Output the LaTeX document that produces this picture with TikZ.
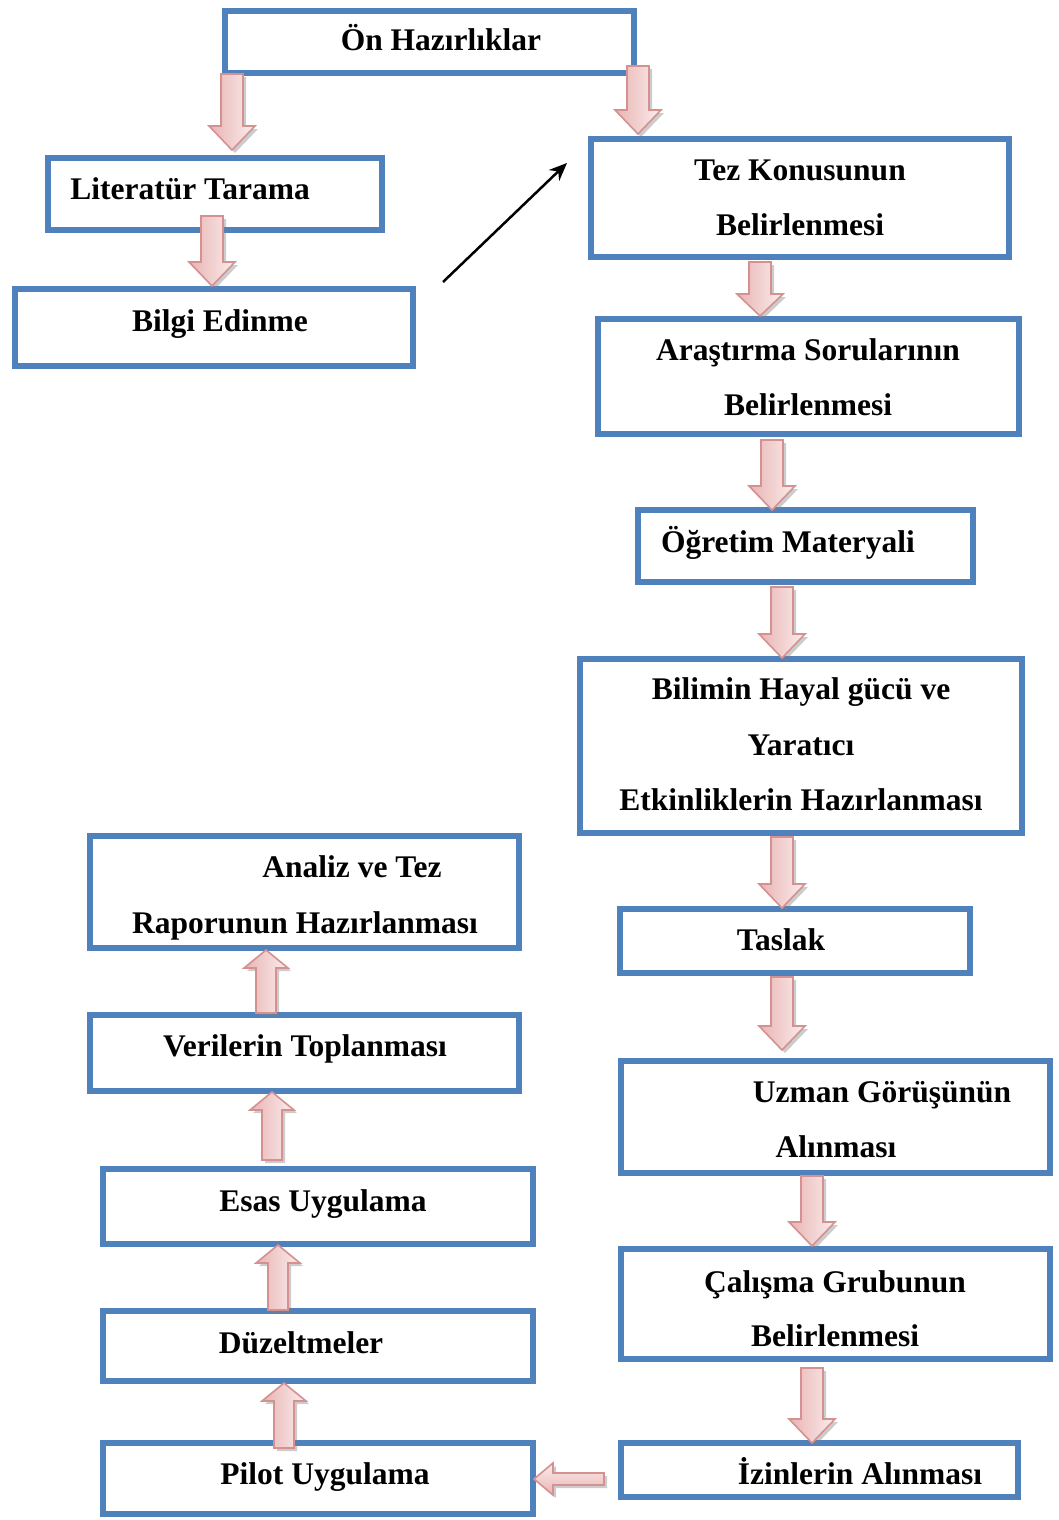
\documentclass[tikz,border=0pt]{standalone}
\usepackage{fontspec}
\setmainfont{Liberation Serif}
\usetikzlibrary{calc,shadows,arrows.meta}
\definecolor{boxblue}{HTML}{4F81BD}
\definecolor{arrline}{HTML}{D59090}
\definecolor{arrdark}{HTML}{E8B4B3}
\definecolor{arrlight}{HTML}{FBEDED}
\tikzset{
  box/.style={draw=boxblue, line width=6pt, inner sep=0pt, fill=white},
  lbl/.style={font=\fontsize{31.5}{40}\selectfont\bfseries, anchor=base, inner sep=0pt},
  barrowstyle/.style={draw=arrline, line width=1.6pt, line join=miter,
    drop shadow={shadow xshift=3pt, shadow yshift=-3pt, fill=black!50, opacity=0.4}},
  vshade/.style={left color=arrdark, right color=arrlight},
  hshade/.style={top color=arrlight, bottom color=arrdark},
}
% [style]{from}{to}{shaft half width}{head half width}{head length}
\newcommand{\blockarrow}[6][vshade]{%
  \coordinate (ba-h) at ($(#3)!#6!(#2)$);
  \path[barrowstyle,#1]
    ($(#2)!#4!90:(#3)$) -- ($(ba-h)!#4!90:(#3)$) -- ($(ba-h)!#5!90:(#3)$) --
    (#3) --
    ($(ba-h)!#5!-90:(#3)$) -- ($(ba-h)!#4!-90:(#3)$) -- ($(#2)!#4!-90:(#3)$) -- cycle;
}
\begin{document}
\begin{tikzpicture}[x=1pt,y=-1pt]
\useasboundingbox (0,0) rectangle (1058,1520);

% boxes
\node[box, minimum width=409, minimum height=62]  (on)  at (429.5,42) {};
\node[box, minimum width=334, minimum height=72]  (lit) at (215,194) {};
\node[box, minimum width=398, minimum height=77]  (bil) at (214,327.5) {};
\node[box, minimum width=418, minimum height=118] (tez) at (800,198) {};
\node[box, minimum width=421, minimum height=115] (ara) at (808.5,376.5) {};
\node[box, minimum width=335, minimum height=72]  (ogr) at (805.5,546) {};
\node[box, minimum width=442, minimum height=174] (bh)  at (801,746) {};
\node[box, minimum width=350, minimum height=64]  (tas) at (795,941) {};
\node[box, minimum width=429, minimum height=112] (uz)  at (835.5,1117) {};
\node[box, minimum width=429, minimum height=110] (cal) at (835.5,1304) {};
\node[box, minimum width=397, minimum height=54]  (izn) at (819.5,1470) {};
\node[box, minimum width=430, minimum height=71]  (pil) at (318,1478.5) {};
\node[box, minimum width=430, minimum height=70]  (duz) at (318,1346) {};
\node[box, minimum width=430, minimum height=75]  (esa) at (318,1206.5) {};
\node[box, minimum width=429, minimum height=76]  (ver) at (304.5,1053) {};
\node[box, minimum width=429, minimum height=112] (ana) at (304.5,892) {};

% texts
\node[lbl] (t-on)   at (441,51)   {Ön Hazırlıklar};
\node[lbl] (t-lit)  at (190,199)  {Literatür Tarama};
\node[lbl] (t-bil)  at (220,331)  {Bilgi Edinme};
\node[lbl] (t-tez1) at (800,180)  {Tez Konusunun};
\node[lbl] (t-tez2) at (800,235)  {Belirlenmesi};
\node[lbl] (t-ara1) at (808,360)  {Araştırma Sorularının};
\node[lbl] (t-ara2) at (808,415)  {Belirlenmesi};
\node[lbl] (t-ogr)  at (788,552)  {Öğretim Materyali};
\node[lbl] (t-bh1)  at (801,699)  {Bilimin Hayal gücü ve};
\node[lbl] (t-bh2)  at (801,755)  {Yaratıcı};
\node[lbl] (t-bh3)  at (801,810)  {Etkinliklerin Hazırlanması};
\node[lbl] (t-tas)  at (781,950)  {Taslak};
\node[lbl] (t-uz1)  at (882,1102) {Uzman Görüşünün};
\node[lbl] (t-uz2)  at (836,1157) {Alınması};
\node[lbl] (t-cal1) at (835,1292) {Çalışma Grubunun};
\node[lbl] (t-cal2) at (835,1346) {Belirlenmesi};
\node[lbl] (t-izn)  at (860,1484) {İzinlerin Alınması};
\node[lbl] (t-ana1) at (352,877)  {Analiz ve Tez};
\node[lbl] (t-ana2) at (305,933)  {Raporunun Hazırlanması};
\node[lbl] (t-ver)  at (305,1056) {Verilerin Toplanması};
\node[lbl] (t-esa)  at (323,1211) {Esas Uygulama};
\node[lbl] (t-duz)  at (301,1353) {Düzeltmeler};
\node[lbl] (t-pil)  at (325,1484) {Pilot Uygulama};

% block arrow end points
\coordinate (a1s) at (232,74);    \coordinate (a1e) at (232,150);
\coordinate (a2s) at (638,66);    \coordinate (a2e) at (638,134);
\coordinate (a3s) at (212,216);   \coordinate (a3e) at (212,286);
\coordinate (a4s) at (760,262);   \coordinate (a4e) at (760,316);
\coordinate (a5s) at (772,440);   \coordinate (a5e) at (772,510);
\coordinate (a6s) at (782,587);   \coordinate (a6e) at (782,658);
\coordinate (a7s) at (782,837);   \coordinate (a7e) at (782,908);
\coordinate (a8s) at (782,977);   \coordinate (a8e) at (782,1050);
\coordinate (a9s) at (812,1176);  \coordinate (a9e) at (812,1246);
\coordinate (a10s) at (812,1368); \coordinate (a10e) at (812,1443);
\coordinate (u1s) at (284,1448);  \coordinate (u1e) at (284,1383);
\coordinate (u2s) at (278,1310);  \coordinate (u2e) at (278,1245);
\coordinate (u3s) at (272,1160);  \coordinate (u3e) at (272,1092);
\coordinate (u4s) at (266,1013);  \coordinate (u4e) at (266,950);
\coordinate (l1s) at (604,1479);  \coordinate (l1e) at (534,1479);

\blockarrow{a1s}{a1e}{11pt}{23pt}{24pt}
\blockarrow{a2s}{a2e}{11pt}{23pt}{24pt}
\blockarrow{a3s}{a3e}{11pt}{23pt}{24pt}
\blockarrow{a4s}{a4e}{11pt}{23pt}{22pt}
\blockarrow{a5s}{a5e}{11pt}{23pt}{24pt}
\blockarrow{a6s}{a6e}{11pt}{23pt}{24pt}
\blockarrow{a7s}{a7e}{11pt}{23pt}{24pt}
\blockarrow{a8s}{a8e}{11pt}{23pt}{24pt}
\blockarrow{a9s}{a9e}{11pt}{23pt}{24pt}
\blockarrow{a10s}{a10e}{11pt}{23pt}{24pt}
\blockarrow{u1s}{u1e}{10pt}{22pt}{18pt}
\blockarrow{u2s}{u2e}{10pt}{22pt}{18pt}
\blockarrow{u3s}{u3e}{10pt}{22pt}{18pt}
\blockarrow{u4s}{u4e}{10pt}{22pt}{18pt}
\blockarrow[hshade]{l1s}{l1e}{6pt}{16pt}{19pt}

% thin black arrow
\coordinate (bs) at (443,282);
\coordinate (be) at (567,163);
\draw[line width=2.5pt, -{Stealth[length=18pt,width=15pt]}] (bs) -- (be);
\end{tikzpicture}
\end{document}
